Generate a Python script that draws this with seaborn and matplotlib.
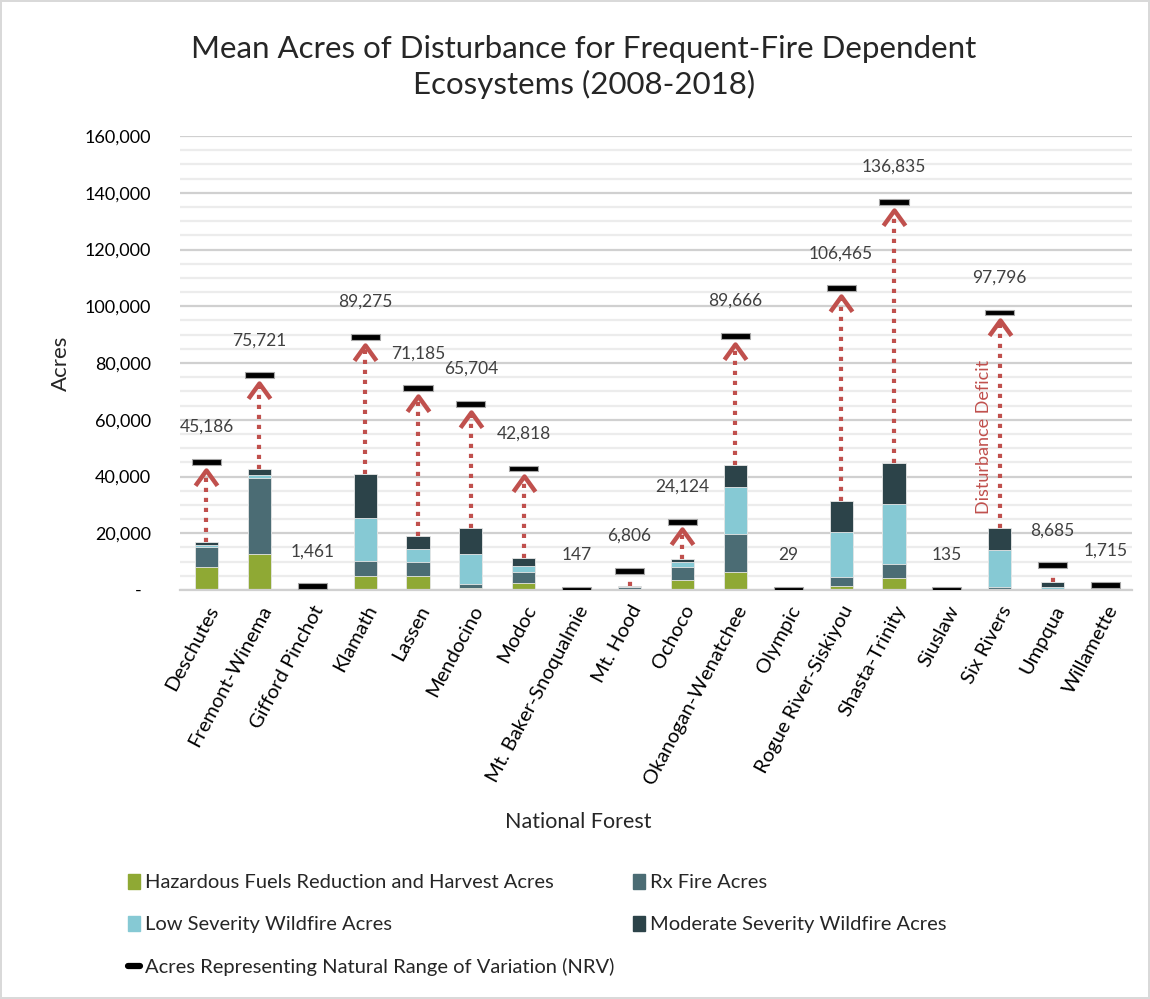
import matplotlib
matplotlib.use("Agg")
import matplotlib.pyplot as plt
import numpy as np
import pandas as pd
import seaborn as sns
from matplotlib.lines import Line2D
from matplotlib.patches import Patch
from matplotlib.path import Path
from matplotlib.ticker import FuncFormatter, MultipleLocator

forests = [
    "Deschutes", "Fremont-Winema", "Gifford Pinchot", "Klamath", "Lassen",
    "Mendocino", "Modoc", "Mt. Baker-Snoqualmie", "Mt. Hood", "Ochoco",
    "Okanogan-Wenatchee", "Olympic", "Rogue River-Siskiyou", "Shasta-Trinity",
    "Siuslaw", "Six Rivers", "Umpqua", "Willamette",
]
hazardous = [8000, 12750, 0, 5000, 5000, 700, 2350, 0, 0, 3650,
             6200, 0, 1500, 4100, 0, 200, 100, 0]
rx_fire = [7000, 26750, 0, 5100, 4800, 1400, 3900, 0, 1000, 4350,
           13500, 0, 3000, 5100, 0, 700, 300, 0]
low_sev = [900, 1200, 0, 15400, 4700, 10750, 2100, 0, 0, 1750,
           16600, 0, 15900, 21200, 0, 13250, 800, 0]
mod_sev = [1100, 2000, 0, 15400, 4400, 9100, 3100, 0, 400, 1200,
           7700, 0, 11000, 14400, 0, 7650, 1500, 0]
nrv = [45186, 75721, 1461, 89275, 71185, 65704, 42818, 147, 6806, 24124,
       89666, 29, 106465, 136835, 135, 97796, 8685, 1715]

series_names = [
    "Hazardous Fuels Reduction and Harvest Acres",
    "Rx Fire Acres",
    "Low Severity Wildfire Acres",
    "Moderate Severity Wildfire Acres",
]
colors = ["#8fa934", "#4b6c74", "#86c9d4", "#2c4349"]
red = "#c0504d"

sns.set_theme(style="white")
plt.rcParams["font.family"] = ["Lato", "DejaVu Sans"]

df = pd.DataFrame({"forest": forests, "haz": hazardous, "rx": rx_fire,
                   "low": low_sev, "mod": mod_sev, "nrv": nrv})
df["c1"] = df["haz"]
df["c2"] = df["c1"] + df["rx"]
df["c3"] = df["c2"] + df["low"]
df["c4"] = df["c3"] + df["mod"]

fig = plt.figure(figsize=(11.5, 9.99), dpi=100)
fig.patch.set_edgecolor("#d9d9d9")
fig.patch.set_linewidth(1.5)
ax = fig.add_axes([180 / 1150, 1 - 590 / 999, 952 / 1150, 454 / 999])

# stacked bars: draw cumulative totals from top layer down
for col, color in zip(["c4", "c3", "c2", "c1"], colors[::-1]):
    sns.barplot(data=df, x="forest", y=col, order=forests, color=color,
                saturation=1, width=0.435, errorbar=None, ax=ax,
                edgecolor="#e8e8e8", linewidth=0.6)

xs = np.arange(len(forests))
tops = df["c4"].to_numpy()

# deficit arrows
chevron = Path([(-0.72, -1.0), (0.0, 0.0), (0.72, -1.0)],
               [Path.MOVETO, Path.LINETO, Path.LINETO])
for x, top, target in zip(xs, tops, nrv):
    gap = target - top
    if gap < 4000:
        continue
    tip = target - 2800
    ax.plot([x, x], [top, tip], color=red, linestyle=(0, (1, 1.4)),
            linewidth=3, zorder=4)
    if gap > 10000:
        ax.plot([x], [tip], marker=chevron, markersize=22, color=red,
                fillstyle="none", markeredgewidth=3.2, zorder=5)

# NRV markers
ax.bar(xs, [2100] * len(xs), bottom=np.array(nrv) - 1050, width=0.55,
       color="black", edgecolor="#a6a6a6", linewidth=0.8, zorder=6)

for x, v in zip(xs, nrv):
    ax.annotate(f"{v:,}", (x, v), xytext=(0, 25), textcoords="offset points",
                ha="center", va="center", fontsize=12.5, color="#404040")

ax.text(15 - 0.29, 54000, "Disturbance Deficit", rotation=90, color=red,
        ha="center", va="center", fontsize=13)

ax.set_xlim(-0.5, len(forests) - 0.5)
ax.set_ylim(0, 160000)
ax.yaxis.set_major_locator(MultipleLocator(20000))
ax.yaxis.set_minor_locator(MultipleLocator(5000))
ax.yaxis.set_major_formatter(FuncFormatter(lambda v, p: "-  " if v == 0 else f"{int(v):,}"))
ax.grid(True, which="major", axis="y", color="#d0d0d0", linewidth=1.6)
ax.grid(True, which="minor", axis="y", color="#ececec", linewidth=1.6)
ax.set_axisbelow(True)
ax.tick_params(axis="both", which="both", length=0, colors="black")
ax.tick_params(axis="y", pad=21, labelsize=13)
ax.tick_params(axis="x", pad=9, labelsize=14.5)
for lab in ax.get_xticklabels():
    lab.set_rotation(62)
    lab.set_ha("right")
    lab.set_rotation_mode("anchor")
for s in ["left", "right", "top"]:
    ax.spines[s].set_visible(False)
ax.spines["bottom"].set_color("#d0d0d0")
ax.spines["bottom"].set_linewidth(1.6)

ax.set_xlabel("")
ax.set_ylabel("Acres", fontsize=16)
ax.yaxis.set_label_coords(-0.115, 0.5)
fig.text(578 / 1150, 1 - 822 / 999, "National Forest", ha="center",
         va="center", fontsize=15.5)

fig.text(584 / 1150, 1 - 67 / 999,
         "Mean Acres of Disturbance for Frequent-Fire Dependent\nEcosystems (2008-2018)",
         ha="center", va="center", fontsize=22.5, linespacing=1.3)

# legend
handles = [Patch(color=c, label=n) for c, n in zip(colors, series_names)]
nrv_handle = Line2D([], [], color="black", linewidth=4.5,
                    label="Acres Representing Natural Range of Variation (NRV)")
leg_kw = dict(frameon=False, fontsize=14.5, handlelength=0.6, handleheight=0.75,
              handletextpad=0.25, labelspacing=1.22, borderaxespad=0,
              borderpad=0, loc="upper left")
fig.legend(handles=[handles[0], handles[2], nrv_handle],
           bbox_to_anchor=(128 / 1150, 1 - 874 / 999), **leg_kw)
fig.legend(handles=[handles[1], handles[3]],
           bbox_to_anchor=(633 / 1150, 1 - 874 / 999), **leg_kw)

fig.savefig("out.png", dpi=100)
